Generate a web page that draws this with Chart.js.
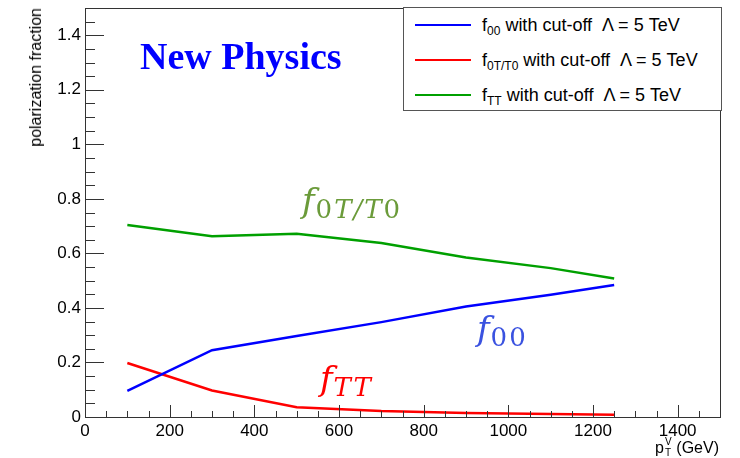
<!DOCTYPE html>
<html>
<head>
<meta charset="utf-8">
<script src="https://cdn.jsdelivr.net/npm/chart.js@4"></script>
<style>
  html, body { margin: 0; padding: 0; background: #fff; }
  #wrap { position: relative; width: 740px; height: 458px; font-family: "Liberation Sans", Arial, sans-serif; }
  #wrap canvas { position: absolute; left: 0; top: 0; }
  .abs { position: absolute; white-space: nowrap; line-height: 1; }
  #legend { left: 403px; top: 7px; width: 317px; height: 102px; border: 1px solid #555; background: #fff; }
  .entry { position: absolute; left: 78px; font-size: 18px; color: #000; line-height: 1; }
  .entry sub { font-size: 12px; vertical-align: -0.3em; }
  .sample { position: absolute; left: 11px; width: 56px; height: 2px; }
  .ann { font-family: "DejaVu Serif", serif; font-style: italic; font-size: 34px; letter-spacing: 1px; }
  .ann sub { font-size: 26px; vertical-align: -0.22em; letter-spacing: 2px; }
  .up { font-style: normal; }
</style>
</head>
<body>
<div id="wrap">
  <canvas id="chart-polarization" width="740" height="458"></canvas>

  <div class="abs" style="left:140px; top:37px; font-family:'Liberation Serif','Times New Roman',serif; font-weight:bold; font-size:38px; color:#0000ff;">New Physics</div>

  <div id="legend" class="abs">
    <div class="sample" style="top:16px; background:#0000ff;"></div>
    <div class="entry" style="top:8px;">f<sub>00</sub> with cut-off &nbsp;Λ = 5 TeV</div>
    <div class="sample" style="top:51px; background:#ff0000;"></div>
    <div class="entry" style="top:43px;">f<sub>0T/T0</sub> with cut-off &nbsp;Λ = 5 TeV</div>
    <div class="sample" style="top:86px; background:#00a000;"></div>
    <div class="entry" style="top:78px;">f<sub>TT</sub> with cut-off &nbsp;Λ = 5 TeV</div>
  </div>

  <div class="abs ann" style="left:302px; top:183px; color:#6b9b3a;">f<sub><span class="up">0</span>T/T<span class="up">0</span></sub></div>
  <div class="abs ann" style="left:477px; top:311px; color:#3a52e0;">f<sub><span class="up">00</span></sub></div>
  <div class="abs ann" style="left:320px; top:361px; color:#ff0000;">f<sub>TT</sub></div>

  <div class="abs" style="left:28px; top:8px; font-size:16px; writing-mode:vertical-rl; transform:rotate(180deg);">polarization fraction</div>
  <div class="abs" style="right:21px; top:438px; font-size:16px;">p<span style="display:inline-block; position:relative; width:8px; height:15px; font-size:10px;"><span style="position:absolute; left:1px; top:-1px;">V</span><span style="position:absolute; left:1px; top:10px;">T</span></span> (GeV)</div>
</div>

<script>
// Data

var ptValues = [100, 300, 500, 700, 900, 1100, 1250];
var f00Values = [0.096, 0.245, 0.297, 0.348, 0.405, 0.448, 0.484];
var f0TValues = [0.198, 0.097, 0.036, 0.022, 0.015, 0.011, 0.008];
var fTTValues = [0.704, 0.663, 0.672, 0.638, 0.585, 0.546, 0.508];

var xTickLabels = [0, 200, 400, 600, 800, 1000, 1200, 1400];
var yTickLabels = [0, 0.2, 0.4, 0.6, 0.8, 1, 1.2, 1.4];

function toPoints(ys) {
    return ptValues.map(function (x, i) { return { x: x, y: ys[i] }; });
}

// ROOT style frame with ticks drawn inside the plot
var innerTicks = {
    id: 'innerTicks',
    afterDraw: function (chart) {
        var ctx = chart.ctx;
        var a = chart.chartArea;
        var xs = chart.scales.x, ys = chart.scales.y;
        ctx.save();
        ctx.strokeStyle = '#333';
        ctx.lineWidth = 1;
        ctx.strokeRect(a.left + 0.5, a.top + 0.5, a.right - a.left, a.bottom - a.top);
        ctx.beginPath();
        var v, px, len;
        for (v = 0; v <= 1500; v += 50) {
            px = Math.round(xs.getPixelForValue(v)) + 0.5;
            len = (v % 200 === 0) ? 12 : 6;
            ctx.moveTo(px, a.bottom);
            ctx.lineTo(px, a.bottom - len);
        }
        for (var k = 0; k <= 30; k++) {
            v = k * 0.05;
            px = Math.round(ys.getPixelForValue(v)) + 0.5;
            len = (k % 4 === 0) ? 19 : 10;
            ctx.moveTo(a.left, px);
            ctx.lineTo(a.left + len, px);
        }
        ctx.stroke();
        ctx.restore();
    }
};

var chart = new Chart(document.getElementById('chart-polarization'), {
    type: 'line',
    data: {
        datasets: [
            { label: 'f00', data: toPoints(f00Values), borderColor: '#0000ff' },
            { label: 'f0T/T0', data: toPoints(f0TValues), borderColor: '#ff0000' },
            { label: 'fTT', data: toPoints(fTTValues), borderColor: '#00a000' }
        ]
    },
    options: {
        responsive: false,
        animation: false,
        layout: { padding: { left: 0, right: 20, top: 8, bottom: 0 } },
        elements: {
            line: { borderWidth: 2.5, tension: 0, fill: false },
            point: { radius: 0 }
        },
        plugins: { legend: { display: false }, tooltip: { enabled: false } },
        scales: {
            x: {
                type: 'linear',
                min: 0,
                max: 1500,
                afterFit: function (s) { s.height = 41; s.paddingLeft = 0; s.paddingRight = 0; },
                afterBuildTicks: function (s) {
                    s.ticks = xTickLabels.map(function (v) { return { value: v }; });
                },
                grid: { display: false, drawTicks: false },
                border: { display: false },
                ticks: {
                    maxRotation: 0,
                    autoSkip: false,
                    padding: 4,
                    color: '#000',
                    font: { family: 'Liberation Sans', size: 17 },
                    callback: function (v) { return String(v); }
                }
            },
            y: {
                min: 0,
                max: 1.5,
                afterFit: function (s) { s.width = 85; s.paddingTop = 0; s.paddingBottom = 0; },
                afterBuildTicks: function (s) {
                    s.ticks = yTickLabels.map(function (v) { return { value: v }; });
                },
                grid: { display: false, drawTicks: false },
                border: { display: false },
                ticks: {
                    autoSkip: false,
                    padding: 4,
                    color: '#000',
                    font: { family: 'Liberation Sans', size: 17 },
                    callback: function (v) { return String(Math.round(v * 10) / 10); }
                }
            }
        }
    },
    plugins: [innerTicks]
});
</script>
</body>
</html>
